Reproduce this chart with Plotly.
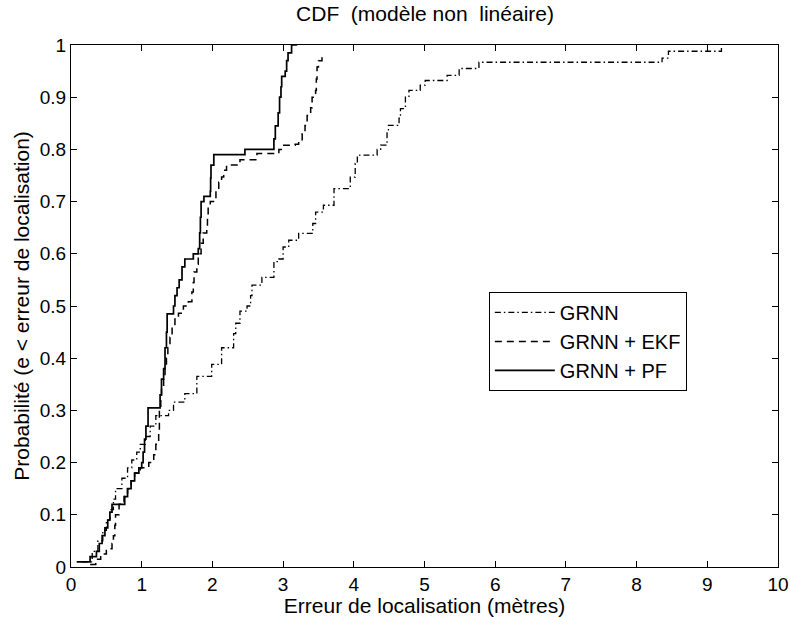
import plotly.graph_objects as go

# ---- data (step vertices: riser x, level reached) ----
grnn_x = [0.15, 0.30, 0.38, 0.45, 0.50, 0.55, 0.60, 0.63, 0.72, 0.80, 0.86, 0.93, 0.98,
          1.05, 1.12, 1.20, 1.38, 1.45, 1.61, 1.78, 1.99, 2.13, 2.30, 2.33, 2.39, 2.49,
          2.54, 2.56, 2.70, 2.87, 2.94, 3.00, 3.08, 3.22, 3.42, 3.46, 3.57, 3.72, 3.95,
          4.02, 4.05, 4.33, 4.38, 4.47, 4.49, 4.64, 4.66, 4.73, 4.78, 4.94, 5.01, 5.32,
          5.49, 5.77, 8.36, 8.45, 9.20]
grnn_y = [0.01, 0.03, 0.05, 0.07, 0.09, 0.11, 0.13, 0.15, 0.17, 0.19, 0.205, 0.22, 0.235,
          0.25, 0.27, 0.29, 0.30, 0.316, 0.332, 0.365, 0.388, 0.42, 0.447, 0.467, 0.49, 0.50,
          0.52, 0.54, 0.555, 0.585, 0.59, 0.613, 0.626, 0.639, 0.658, 0.68, 0.693, 0.725, 0.747,
          0.773, 0.789, 0.80, 0.808, 0.833, 0.846, 0.86, 0.878, 0.90, 0.913, 0.923, 0.932, 0.942,
          0.955, 0.967, 0.975, 0.988, 1.0]

ekf_x = [0.27, 0.35, 0.42, 0.50, 0.58, 0.60, 0.62, 0.63, 0.68, 0.75, 0.80, 0.85, 0.90, 0.98,
         1.10, 1.17, 1.20, 1.24, 1.25, 1.27, 1.28, 1.31, 1.33, 1.35, 1.37, 1.40, 1.43, 1.47,
         1.52, 1.59, 1.66, 1.71, 1.73, 1.74, 1.78, 1.80, 1.84, 1.87, 1.92, 1.93, 1.94, 1.97,
         2.05, 2.09, 2.13, 2.16, 2.20, 2.39, 2.63, 2.94, 3.01, 3.17, 3.22, 3.27, 3.31, 3.34,
         3.39, 3.41, 3.46, 3.47, 3.48, 3.50, 3.55, 3.57]
ekf_y = [0.005, 0.015, 0.025, 0.035, 0.045, 0.06, 0.08, 0.10, 0.12, 0.135, 0.15, 0.165, 0.18, 0.19,
         0.20, 0.215, 0.235, 0.26, 0.30, 0.32, 0.345, 0.365, 0.38, 0.40, 0.42, 0.44, 0.46, 0.475,
         0.486, 0.50, 0.508, 0.527, 0.545, 0.565, 0.58, 0.60, 0.62, 0.64, 0.65, 0.67, 0.69, 0.70,
         0.72, 0.737, 0.747, 0.76, 0.77, 0.78, 0.792, 0.80, 0.808, 0.81, 0.817, 0.83, 0.846, 0.865,
         0.88, 0.90, 0.913, 0.935, 0.958, 0.97, 0.983, 0.983]

pf_x = [0.08, 0.27, 0.36, 0.40, 0.44, 0.48, 0.52, 0.55, 0.58, 0.76, 0.80, 0.85, 0.90, 0.96,
        1.00, 1.02, 1.04, 1.06, 1.09, 1.26, 1.28, 1.31, 1.33, 1.35, 1.36, 1.45, 1.47, 1.50,
        1.53, 1.57, 1.61, 1.73, 1.80, 1.82, 1.83, 1.84, 1.88, 1.97, 1.975, 1.98, 2.02, 2.46,
        2.87, 2.89, 2.93, 2.95, 2.97, 2.98, 3.03, 3.05, 3.07, 3.12, 3.20]
pf_y = [0.01, 0.02, 0.03, 0.045, 0.06, 0.075, 0.09, 0.105, 0.12, 0.135, 0.15, 0.165, 0.18, 0.19,
        0.20, 0.22, 0.245, 0.27, 0.305, 0.33, 0.36, 0.38, 0.42, 0.45, 0.485, 0.50, 0.52, 0.535,
        0.55, 0.575, 0.59, 0.60, 0.61, 0.64, 0.67, 0.70, 0.71, 0.72, 0.745, 0.77, 0.79, 0.80,
        0.82, 0.845, 0.87, 0.90, 0.92, 0.94, 0.95, 0.97, 0.985, 1.0, 1.0]

x_ticks = list(range(0, 11))
y_ticks = [i / 10 for i in range(11)]
y_tick_labels = ["0", "0.1", "0.2", "0.3", "0.4", "0.5", "0.6", "0.7", "0.8", "0.9", "1"]

FONT = "Liberation Sans, Arial, Helvetica, sans-serif"
FS = 21

fig = go.Figure()
fig.add_trace(go.Scatter(x=grnn_x, y=grnn_y, mode="lines", name="GRNN",
                         line=dict(color="black", width=1.3, dash="6px,3px,1.5px,3px", shape="hv")))
fig.add_trace(go.Scatter(x=ekf_x, y=ekf_y, mode="lines", name="GRNN + EKF",
                         line=dict(color="black", width=1.5, dash="7px,5px", shape="hv")))
fig.add_trace(go.Scatter(x=pf_x, y=pf_y, mode="lines", name="GRNN + PF",
                         line=dict(color="black", width=1.7, shape="hv")))

axis_common = dict(showgrid=False, zeroline=False, showline=True, linecolor="black",
                   linewidth=1.3, mirror="ticks", ticks="inside", ticklen=6,
                   tickcolor="black", tickwidth=1.2, automargin=False,
                   tickfont=dict(family=FONT, size=19, color="black"))

fig.update_xaxes(range=[0, 10], tickvals=x_ticks, ticktext=[str(v) for v in x_ticks],
                 title=dict(text="Erreur de localisation (mètres)", standoff=0,
                            font=dict(family=FONT, size=FS, color="black")),
                 **axis_common)
fig.update_yaxes(range=[0, 1], tickvals=y_ticks, ticktext=y_tick_labels,
                 title=dict(text="Probabilité (e < erreur de localisation)", standoff=4,
                            font=dict(family=FONT, size=FS, color="black")),
                 **axis_common)

fig.update_layout(
    width=790, height=617,
    margin=dict(l=71, r=12, t=45, b=50),
    paper_bgcolor="white", plot_bgcolor="white",
    title=dict(text="CDF  (modèle non  linéaire)", x=0.538, xanchor="center",
               y=0.978, yanchor="middle",
               font=dict(family=FONT, size=FS, color="black")),
    legend=dict(x=0.591, y=0.527, xanchor="left", yanchor="top",
                bordercolor="black", borderwidth=1, bgcolor="white",
                font=dict(family=FONT, size=20, color="black"),
                itemwidth=60, tracegroupgap=0),
    showlegend=True,
)

fig.write_html("out.html")
